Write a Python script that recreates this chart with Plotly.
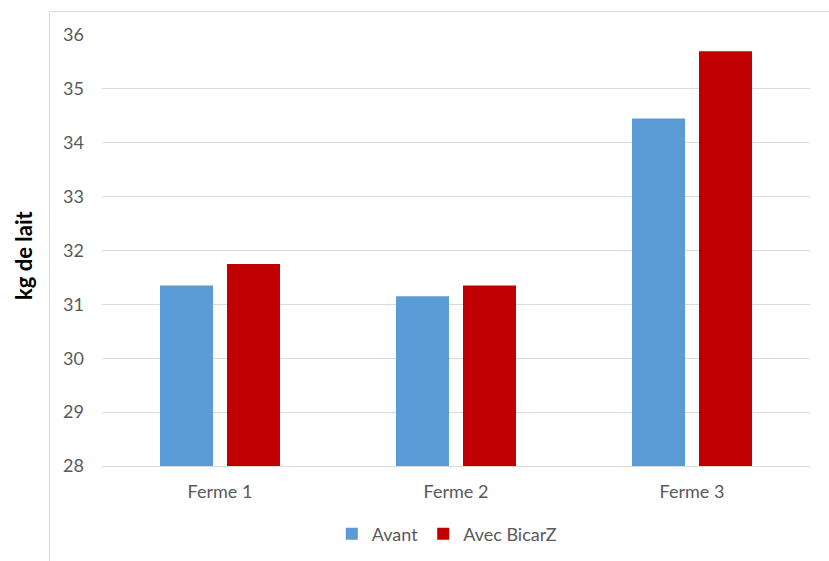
import plotly.graph_objects as go

categories = ["Ferme 1", "Ferme 2", "Ferme 3"]
avant = [31.35, 31.15, 34.45]
avec_bicarz = [31.75, 31.35, 35.7]
series_names = ["Avant", "Avec BicarZ"]
y_ticks = [28, 29, 30, 31, 32, 33, 34, 35, 36]

FONT = "Lato, Carlito, Calibri, sans-serif"
TXT = "#595959"
GRID = "#d9d9d9"

fig = go.Figure()
fig.add_trace(go.Bar(x=categories, y=avant, name=series_names[0],
                     marker=dict(color="#5B9BD5", line=dict(width=0))))
fig.add_trace(go.Bar(x=categories, y=avec_bicarz, name=series_names[1],
                     marker=dict(color="#C00000", line=dict(width=0))))

L, R, T, B = 102, 19, 35, 95
W, H = 829, 561
pw, ph = W - L - R, H - T - B

fig.update_layout(
    width=W, height=H,
    margin=dict(l=L, r=R, t=T, b=B, pad=0, autoexpand=False),
    paper_bgcolor="white", plot_bgcolor="white",
    barmode="group", bargap=0.432, bargroupgap=0.209,
    font=dict(family=FONT, size=18, color=TXT),
    showlegend=True,
    legend=dict(orientation="h", x=0.487, xanchor="center", y=(466 - 534) / ph,
                yanchor="middle", font=dict(family=FONT, size=18, color=TXT),
                itemwidth=30, traceorder="normal"),
    xaxis=dict(showgrid=False, showline=True, linecolor=GRID, linewidth=1,
               ticks="", ticklabelstandoff=9, tickfont=dict(size=18, color=TXT)),
    yaxis=dict(range=[28, 36], tickvals=y_ticks, showgrid=True, gridcolor=GRID,
               gridwidth=1, zeroline=False, showline=False, ticks="",
               ticklabelstandoff=17, tickfont=dict(size=18, color=TXT)),
    annotations=[dict(text="<b>kg de lait</b>", textangle=-90, xref="paper", yref="paper",
                      x=(24 - L) / pw, y=(466 - 255) / ph, xanchor="center", yanchor="middle",
                      showarrow=False, font=dict(family=FONT, size=22, color="black"))],
    shapes=[dict(type="rect", xref="paper", yref="paper",
                 x0=(49.5 - L) / pw, x1=(W + 20 - L) / pw,
                 y0=-(H - T - ph + 20) / ph, y1=1 + (T - 11.5) / ph,
                 line=dict(color=GRID, width=1), fillcolor="rgba(0,0,0,0)", layer="below")],
)

fig.write_html("out.html")
